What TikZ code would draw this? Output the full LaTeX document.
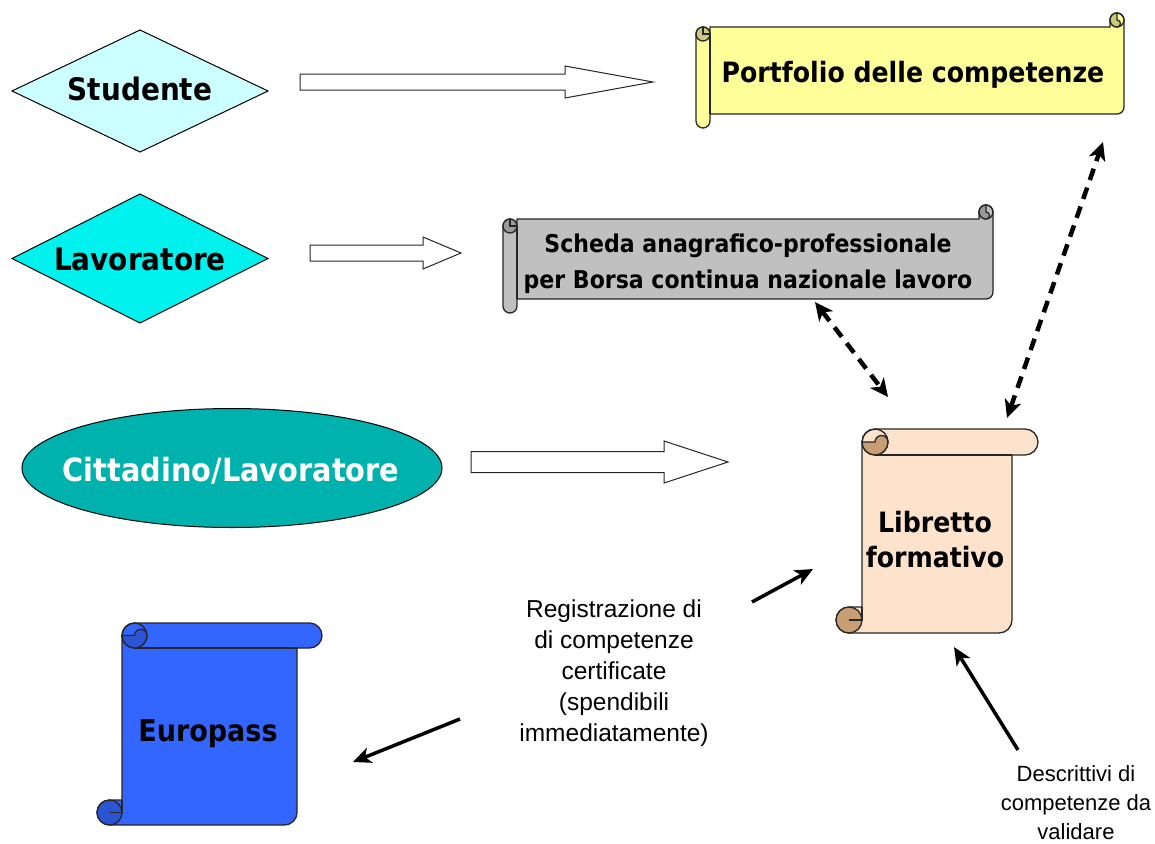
\documentclass[tikz,border=0pt]{standalone}
\usepackage{fontspec}
\setmainfont{DejaVu Sans}[FakeStretch=0.9]
\newfontfamily\labelfont{Liberation Sans}
\usetikzlibrary{shapes.geometric, arrows.meta, positioning}

\definecolor{studcyan}{HTML}{CCFFFF}
\definecolor{lavcyan}{HTML}{00F2EE}
\definecolor{citteal}{HTML}{00B2AE}
\definecolor{portyellow}{HTML}{FFFF99}
\definecolor{schgray}{HTML}{C0C0C0}
\definecolor{libpeach}{HTML}{FDE3CB}
\definecolor{libtan}{HTML}{C89E74}
\definecolor{eurblue}{HTML}{3366FF}
\definecolor{eurdark}{HTML}{2B55D5}

% horizontal scroll: x0, y0, x1, y1, roll, fill, curl fill
\newcommand{\hscroll}[7]{%
  \pgfmathsetmacro{\rr}{#5/2}
  \pgfmathsetmacro{\xa}{#1+#5}
  \pgfmathsetmacro{\xb}{#3-#5}
  \pgfmathsetmacro{\xc}{#3-\rr}
  \pgfmathsetmacro{\xd}{#1+\rr}
  \pgfmathsetmacro{\ya}{#2+#5}
  \pgfmathsetmacro{\yb}{#2+\rr}
  \pgfmathsetmacro{\yc}{#4-#5}
  \pgfmathsetmacro{\yd}{#4-\rr}
  \pgfmathsetmacro{\ye}{#2+#5+\rr}
  \pgfmathsetmacro{\yf}{#4-#5-\rr}
  \draw[scrollline, fill=#6] (\xa,\ya) -- (\xb,\ya) -- (\xb,\yb)
    arc[start angle=180, end angle=360, radius=\rr] -- (#3,\yf)
    arc[start angle=0, end angle=90, radius=\rr] -- (\xa,\yc) -- (\xa,\yd)
    arc[start angle=0, end angle=180, radius=\rr] -- (#1,\ye)
    arc[start angle=180, end angle=360, radius=\rr] -- cycle;
  \draw[scrollline] (\xa,\ye) -- (\xa,\yc);
  \draw[scrollline] (\xc,\yb) circle[radius=\rr];
  \draw[scrollline, fill=#7] (\xc,#2) arc[start angle=270, end angle=90, radius=\rr]
    arc[start angle=90, end angle=-90, radius=\rr/2] -- cycle;
  \draw[scrollline, fill=#7] (\xd,\ye) circle[radius=\rr];
  \draw[scrollline] (\xa,\ye) -- (\xd,\ye) -- (\xd,\ya);
}

% vertical scroll: x0, y0, x1, y1, roll, fill, curl fill
\newcommand{\vscroll}[7]{%
  \pgfmathsetmacro{\rr}{#5/2}
  \pgfmathsetmacro{\xa}{#1+#5}
  \pgfmathsetmacro{\xb}{#3-#5}
  \pgfmathsetmacro{\xc}{#3-\rr}
  \pgfmathsetmacro{\xd}{#1+\rr}
  \pgfmathsetmacro{\xe}{#1+#5+\rr}
  \pgfmathsetmacro{\ya}{#2+#5}
  \pgfmathsetmacro{\yb}{#2+\rr}
  \pgfmathsetmacro{\yc}{#4-#5}
  \pgfmathsetmacro{\yd}{#4-\rr}
  \draw[scrollline, fill=#6] (\xa,\yb) arc[start angle=180, end angle=270, radius=\rr]
    -- (\xc,#2) arc[start angle=270, end angle=450, radius=\rr] -- (\xb,\ya) -- (\xb,\yd)
    arc[start angle=0, end angle=90, radius=\rr] -- (\xd,#4)
    arc[start angle=90, end angle=270, radius=\rr] -- (\xa,\yc) -- cycle;
  \draw[scrollline] (\xe,\ya) -- (\xb,\ya);
  \draw[scrollline] (\xe,\yb) circle[radius=\rr];
  \draw[scrollline, fill=#7] (\xa,\yb) arc[start angle=180, end angle=0, radius=\rr]
    arc[start angle=0, end angle=-180, radius=\rr/2] -- cycle;
  \draw[scrollline, fill=#7] (\xd,\yd) circle[radius=\rr];
  \draw[scrollline] (\xa,\yc) -- (\xa,\yd) -- (\xd,\yd);
}

% diamond: centre x, centre y, half width, half height, fill
\newcommand{\rolediamond}[5]{%
  \draw[diamondline, fill=#5] (#1-#3,#2) -- (#1,#2-#4) -- (#1+#3,#2) -- (#1,#2+#4) -- cycle;
}

% block arrow: x, y, length, half shaft, half head, head length
\newcommand{\blockarrow}[6]{%
  \draw[blockline] (#1,#2-#4) -- ++(#3-#6,0) -- ++(0,#4-#5) -- (#1+#3,#2)
    -- (#1+#3-#6,#2+#5) -- ++(0,#4-#5) -- (#1,#2+#4) -- cycle;
}

\begin{document}
\begin{tikzpicture}[
    x=1pt, y=-1pt,
    scrollline/.style={draw=black!85, line width=1.3pt},
    diamondline/.style={draw=black, line width=1pt},
    blockline/.style={draw=black!85, line width=1pt, fill=white},
    role/.style={font=\bfseries\fontsize{31}{36}\selectfont, inner sep=0pt},
    scrolltext/.style={font=\bfseries\fontsize{28}{35}\selectfont, align=center, inner sep=0pt},
    note/.style={font=\labelfont\fontsize{24.5}{31}\selectfont, align=center, inner sep=0pt},
    dasharrow/.style={line width=4.5pt, dash pattern=on 12pt off 8pt,
        {Stealth[length=18pt,width=17pt,inset=5pt]}-{Stealth[length=18pt,width=17pt,inset=5pt]}},
    solidarrow/.style={line width=3.5pt, -{Stealth[length=18pt,width=16pt,inset=5pt]}}
]
    \useasboundingbox (0,0) rectangle (1155,843);

    % Roles
    \rolediamond{140}{91}{128}{61}{studcyan}
    \node[role] (stud) at (140,89) {Studente};
    \rolediamond{140}{258.5}{128}{64.5}{lavcyan}
    \node[role] (lav) at (140,259) {Lavoratore};
    \node[ellipse, draw=black, line width=1pt, fill=citteal, minimum width=420pt, minimum height=119pt] (cit) at (232,468) {};
    \node[role, text=white, font=\bfseries\fontsize{32}{36}\selectfont] (cittxt) at (231,471) {Cittadino/Lavoratore};

    % Block arrows
    \blockarrow{300}{82}{353}{8}{16}{88}
    \blockarrow{310}{253}{151}{8}{16}{38}
    \blockarrow{471}{462}{257}{10.5}{21}{64}

    % Scrolls
    \hscroll{696}{13}{1124}{128}{14}{portyellow}{portyellow!80!black}
    \node[scrolltext] (port) at (913,75) {Portfolio delle competenze};
    \hscroll{503}{205}{993}{313}{14}{schgray}{schgray!80!black}
    \node[scrolltext, font=\bfseries\fontsize{24.5}{36}\selectfont] (sched) at (748,264) {Scheda anagrafico-professionale\\per Borsa continua nazionale lavoro};
    \vscroll{836}{429}{1038}{633}{26}{libpeach}{libtan}
    \node[scrolltext] (lib) at (935,540) {Libretto\\formativo};
    \vscroll{97}{623}{322}{825}{25}{eurblue}{eurdark}
    \node[scrolltext, font=\bfseries\fontsize{30}{36}\selectfont] (euro) at (208,734) {Europass};

    % Notes
    \node[note] (reg) at (614,673) {Registrazione di\\di competenze\\certificate\\(spendibili\\immediatamente)};
    \node[note, font=\labelfont\fontsize{22}{29}\selectfont] (descr) at (1076,803) {Descrittivi di\\competenze da\\validare};

    % Arrow ends
    \coordinate (sch-s) at (815,302);
    \coordinate (lib-n) at (888,397);
    \coordinate (lib-ne) at (1007,418);
    \coordinate (port-s) at (1103,142);
    \coordinate (reg-ne) at (752,602);
    \coordinate (lib-w) at (813,569);
    \coordinate (reg-w) at (460,719);
    \coordinate (euro-e) at (353,762);
    \coordinate (descr-n) at (1018,750);
    \coordinate (lib-s) at (954,647);

    % Connectors
    \draw[dasharrow] (sch-s) -- (lib-n);
    \draw[dasharrow] (lib-ne) -- (port-s);
    \draw[solidarrow] (reg-ne) -- (lib-w);
    \draw[solidarrow] (reg-w) -- (euro-e);
    \draw[solidarrow] (descr-n) -- (lib-s);
\end{tikzpicture}
\end{document}
